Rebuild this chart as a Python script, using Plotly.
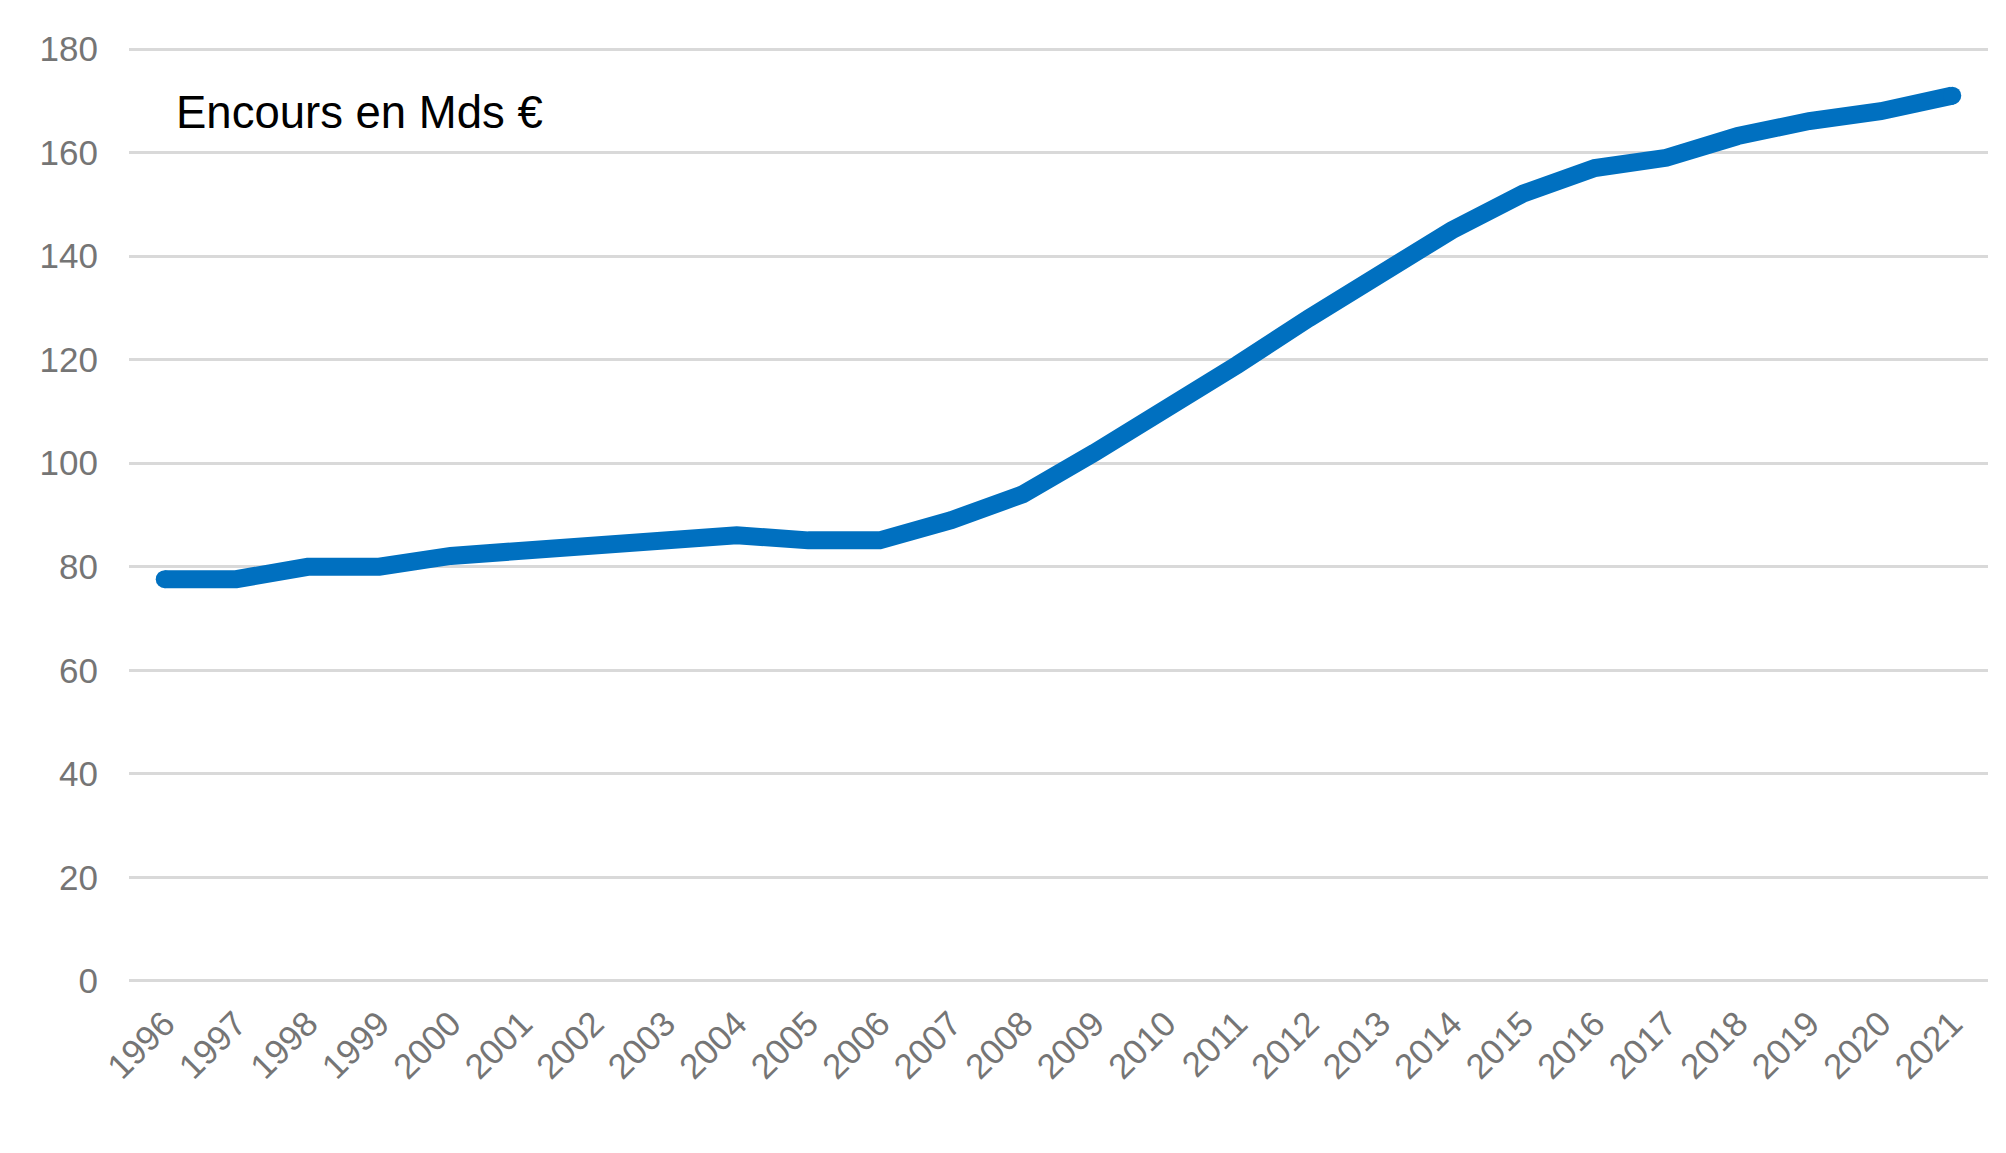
import plotly.graph_objects as go

years = ["1996", "1997", "1998", "1999", "2000", "2001", "2002", "2003", "2004",
         "2005", "2006", "2007", "2008", "2009", "2010", "2011", "2012", "2013",
         "2014", "2015", "2016", "2017", "2018", "2019", "2020", "2021"]
encours = [77.6, 77.6, 80.0, 80.0, 82.1, 83.2, 84.2, 85.1, 86.1,
           85.1, 85.1, 89.0, 94.0, 102.0, 110.0, 119.0, 128.0, 136.9,
           145.0, 152.1, 157.0, 159.0, 163.2, 166.1, 168.0, 171.0]
y_ticks = [0, 20, 40, 60, 80, 100, 120, 140, 160, 180]
label_text = "Encours en Mds €"

line_w = 18
marker_sizes = [line_w] + [0] * (len(encours) - 2) + [line_w]

fig = go.Figure()
fig.add_trace(go.Scatter(
    x=years, y=encours, mode="lines+markers",
    line=dict(color="#0070C0", width=line_w),
    marker=dict(color="#0070C0", size=marker_sizes, opacity=1, line=dict(width=0)),
    showlegend=False, hoverinfo="skip",
))

fig.add_annotation(
    text=label_text, xref="paper", yref="paper", x=0.024, y=0.930,
    xanchor="left", yanchor="middle", showarrow=False,
    font=dict(family="Liberation Sans, Arial, sans-serif", size=45.5, color="#000000"),
)

fig.update_layout(
    width=2006, height=1153,
    margin=dict(l=121, r=26, t=39, b=178),
    paper_bgcolor="white", plot_bgcolor="white",
    font=dict(family="Liberation Sans, Arial, sans-serif", size=35, color="#757575"),
    xaxis=dict(
        type="category", range=[-0.5, len(years) - 0.5],
        tickangle=-45, showgrid=False, zeroline=False, showline=False,
        ticks="", tickfont=dict(size=35, color="#757575"),
        ticklabelstandoff=12,
    ),
    yaxis=dict(
        range=[-0.4, 180.4], tickvals=y_ticks, showgrid=True,
        gridcolor="#D9D9D9", gridwidth=2.5, zeroline=False, showline=False,
        ticks="", tickfont=dict(size=35, color="#757575"),
        ticklabelstandoff=30,
    ),
)

fig.write_html("out.html")
